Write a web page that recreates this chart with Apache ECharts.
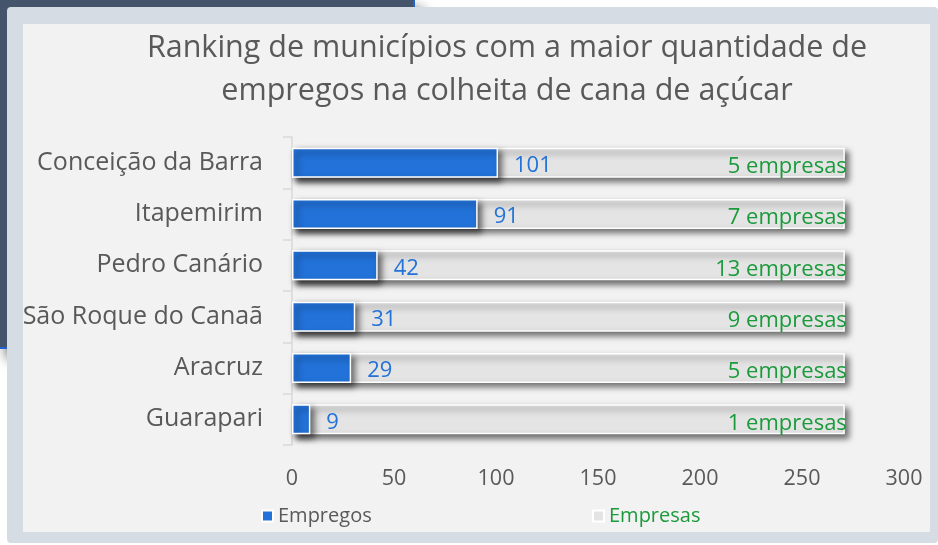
<!DOCTYPE html>
<html>
<head>
<meta charset="utf-8">
<script src="https://cdn.jsdelivr.net/npm/echarts@6/dist/echarts.min.js"></script>
<style>
    html, body { margin: 0; padding: 0; background: #fff; width: 938px; height: 545px; overflow: hidden; }
    .fundo { position: absolute; left: 0; top: 0; width: 413px; height: 347px; background: #44546a;
        border-right: 2px solid #1f62d0; border-bottom: 2px solid #1f62d0;
        box-shadow: 7px 9px 12px rgba(0,0,0,0.7); }
    .cartao { position: absolute; left: 7px; top: 7px; width: 931px; height: 536px; background: #d6dce4; border-radius: 4px; }
    #grafico { position: absolute; left: 23px; top: 24px; width: 907px; height: 508px; background: #f2f2f2; }
</style>
</head>
<body>
<div class="fundo"></div>
<div class="cartao"></div>
<div id="grafico"></div>
<script>
    var municipios = ['Conceição da Barra', 'Itapemirim', 'Pedro Canário', 'São Roque do Canaã', 'Aracruz', 'Guarapari'];
    var empregos = [101, 91, 42, 31, 29, 9];
    var empresas = [5, 7, 13, 9, 5, 1];
    // comprimento da barra cinza (fundo) de cada linha
    var barraEmpresas = [271, 271, 271, 271, 271, 271];
    var ticksX = [0, 50, 100, 150, 200, 250, 300];

    var fonte = 'Open Sans';
    var cinzaTexto = '#595959';
    var azul = '#2272d9';
    var verde = '#1b9a3c';

    var sombra = {
        shadowBlur: 6,
        shadowOffsetX: 4,
        shadowOffsetY: 4,
        shadowColor: 'rgba(0,0,0,0.55)'
    };

    var option = {
        backgroundColor: '#f2f2f2',
        animation: false,
        title: {
            text: 'Ranking de municípios com a maior quantidade de\nempregos na colheita de cana de açúcar',
            left: 484,
            top: 3,
            padding: 0,
            textAlign: 'center',
            textStyle: {
                fontFamily: fonte,
                fontSize: 30.5,
                fontWeight: 'normal',
                color: cinzaTexto,
                lineHeight: 43,
                align: 'center'
            }
        },
        legend: [
            {
                data: ['Empregos'],
                left: 233,
                top: 477,
                itemWidth: 11,
                itemHeight: 11,
                itemGap: 5,
                icon: 'rect',
                itemStyle: { shadowBlur: 0, shadowOffsetX: 0, shadowOffsetY: 0 },
                textStyle: { fontFamily: fonte, fontSize: 20, color: cinzaTexto }
            },
            {
                data: ['Empresas'],
                left: 564,
                top: 477,
                itemWidth: 11,
                itemHeight: 11,
                icon: 'rect',
                itemStyle: { shadowBlur: 0, shadowOffsetX: 0, shadowOffsetY: 0 },
                textStyle: { fontFamily: fonte, fontSize: 20, color: verde }
            }
        ],
        grid: {
            left: 269,
            right: 26,
            top: 113,
            bottom: 87,
            containLabel: false,
            outerBoundsMode: 'none'
        },
        xAxis: {
            type: 'value',
            min: ticksX[0],
            max: ticksX[ticksX.length - 1],
            interval: 50,
            axisLine: { show: false },
            axisTick: { show: false },
            splitLine: { show: false },
            axisLabel: {
                margin: 23,
                fontFamily: fonte,
                fontSize: 21.5,
                color: cinzaTexto
            }
        },
        yAxis: {
            type: 'category',
            data: municipios,
            inverse: true,
            axisLine: { show: true, lineStyle: { color: '#d9d9d9', width: 1.5 } },
            axisTick: { show: true, length: 9, lineStyle: { color: '#d9d9d9', width: 1.5 } },
            axisLabel: {
                margin: 29,
                fontFamily: fonte,
                fontSize: 25,
                color: cinzaTexto
            }
        },
        series: [
            {
                name: 'Empresas',
                type: 'bar',
                data: barraEmpresas,
                barWidth: 30,
                barGap: '-100%',
                z: 1,
                itemStyle: Object.assign({ color: '#e4e4e4', borderColor: '#ffffff', borderWidth: 1.5 }, sombra),
                label: {
                    show: true,
                    position: 'insideRight',
                    distance: 0,
                    offset: [2, 4],
                    fontFamily: fonte,
                    fontSize: 22,
                    color: verde,
                    formatter: function (p) {
                        return empresas[p.dataIndex] + ' empresas';
                    }
                }
            },
            {
                name: 'Empregos',
                type: 'bar',
                data: empregos,
                barWidth: 30,
                barGap: '-100%',
                z: 2,
                itemStyle: Object.assign({ color: azul, borderColor: '#ffffff', borderWidth: 1.5 }, sombra),
                label: {
                    show: true,
                    position: 'right',
                    distance: 16,
                    offset: [0, 3],
                    fontFamily: fonte,
                    fontSize: 22,
                    color: azul
                }
            }
        ]
    };

    var grafico = echarts.init(document.getElementById('grafico'));
    grafico.setOption(option);
</script>
</body>
</html>
